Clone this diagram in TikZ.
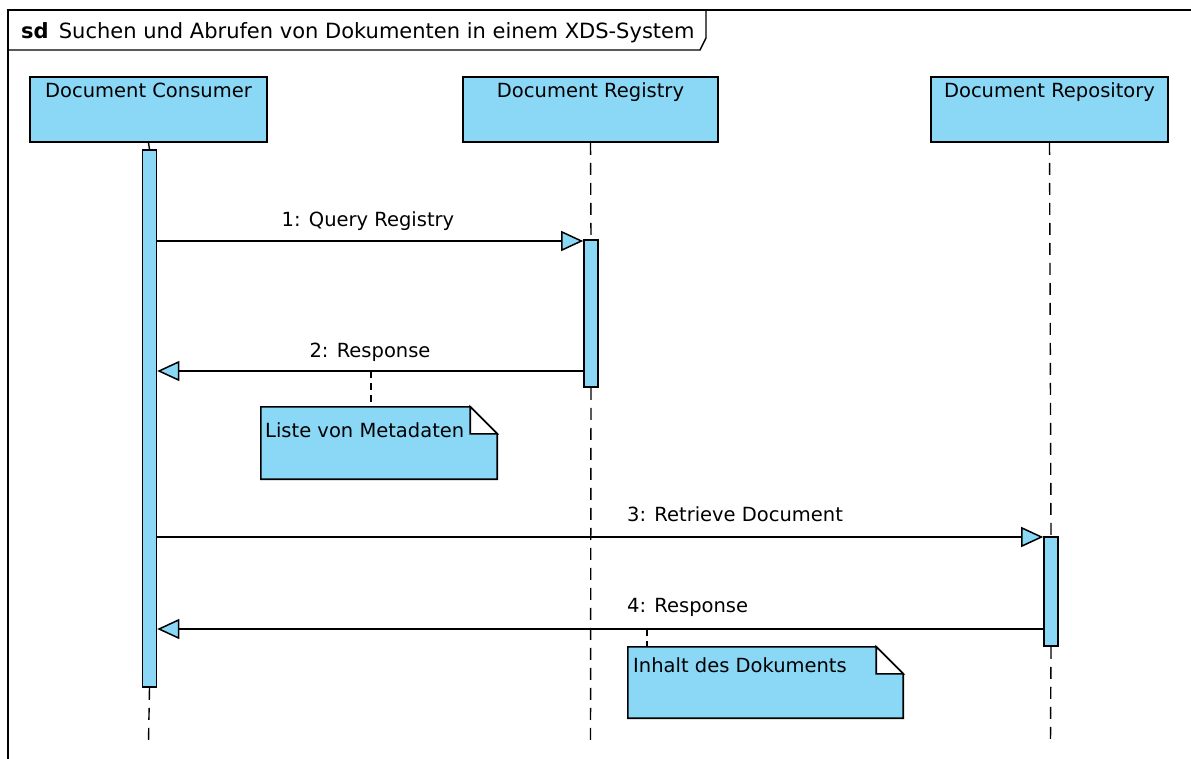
\documentclass[tikz,border=0pt]{standalone}
\usepackage{fontspec}
\setmainfont{DejaVu Sans}
\usetikzlibrary{arrows.meta}
\definecolor{umlblue}{HTML}{8AD8F6}
\tikzset{
  x=1pt, y=-1pt,
  lifebox/.style={draw=black, line width=1.6pt, fill=umlblue, minimum height=65pt, inner sep=0pt},
  txt/.style={font=\fontsize{19.5}{22}\selectfont},
  lifetext/.style={txt, anchor=base},
  actbar/.style={draw=black, line width=1.6pt, fill=umlblue, minimum width=14pt, inner sep=0pt},
  lifeline/.style={draw=black, line width=1.4pt, dash pattern=on 12pt off 8pt},
  msg/.style={draw=black, line width=1.5pt, -{Triangle[length=22pt,width=20pt,fill=umlblue,line width=1.5pt]}},
  msglabel/.style={txt, anchor=base},
  notebox/.style={inner sep=0pt},
  notetext/.style={txt, anchor=base west},
  notelink/.style={draw=black, line width=1.4pt, dash pattern=on 7pt off 5pt},
}
\begin{document}
\begin{tikzpicture}
\useasboundingbox (0,0) rectangle (1191,758);
% frame
\draw[line width=1.4pt] (8,770) -- (8,10) -- (1200,10);
\draw[line width=1.4pt] (8,50) -- (700,50) -- (706,38) -- (706,10);
\node[anchor=base west, font=\fontsize{21}{23}\selectfont, inner sep=0pt] (title) at (21,38) {\textbf{sd}\, Suchen und Abrufen von Dokumenten in einem XDS-System};

% lifeline heads
\node[lifebox, minimum width=237pt] (cons) at (148.5,109.5) {};
\node[lifebox, minimum width=255pt] (reg) at (590.5,109.5) {};
\node[lifebox, minimum width=237pt] (repo) at (1049.5,109.5) {};
\node[lifetext] (consT) at (148.5,97) {Document Consumer};
\node[lifetext] (regT) at (590.5,97) {Document Registry};
\node[lifetext] (repoT) at (1049.5,97) {Document Repository};

% activation bars
\node[actbar, minimum height=537pt] (consA) at (149.5,418.5) {};
\node[actbar, minimum height=147pt] (regA) at (591,313.5) {};
\node[actbar, minimum height=109pt] (repoA) at (1051,591.5) {};

% lifelines
\coordinate (consEnd) at (148.5,742);
\coordinate (regEnd) at (590.5,742);
\coordinate (repoEnd) at (1050.5,742);
\draw[line width=1.4pt] (cons.south) -- (consA.north);
\draw[lifeline] (consA.south) -- (consEnd);
\draw[lifeline] (reg.south) -- (regA.north);
\draw[lifeline] (regA.south) -- (regEnd);
\draw[lifeline] (repo.south) -- (repoA.north);
\draw[lifeline] (repoA.south) -- (repoEnd);

% messages
\coordinate (m1) at (0,241);
\coordinate (m2) at (0,371);
\coordinate (m3) at (0,537);
\coordinate (m4) at (0,629);
\draw[msg] (consA.east |- m1) -- (regA.west |- m1);
\draw[msg] (regA.west |- m2) -- (consA.east |- m2);
\draw[msg] (consA.east |- m3) -- (repoA.west |- m3);
\draw[msg] (repoA.west |- m4) -- (consA.east |- m4);
\node[msglabel] (l1) at (368,226) {1: Query Registry};
\node[msglabel] (l2) at (370,357) {2: Response};
\node[msglabel, anchor=base west, inner sep=0pt] (l3) at (627,521) {3: Retrieve Document};
\node[msglabel, anchor=base west, inner sep=0pt] (l4) at (627,612) {4: Response};

% notes
\node[notebox, minimum width=236pt, minimum height=72pt] (n1) at (379,443) {};
\node[notebox, minimum width=275pt, minimum height=71pt] (n2) at (765.5,682.5) {};
\draw[line width=1.6pt, fill=umlblue] (n1.north west) -- ([xshift=-27pt]n1.north east) -- ([yshift=-27pt]n1.north east) -- (n1.south east) -- (n1.south west) -- cycle;
\draw[line width=1.6pt, fill=white] ([xshift=-27pt]n1.north east) -- ([xshift=-27pt,yshift=-27pt]n1.north east) -- ([yshift=-27pt]n1.north east) -- cycle;
\draw[line width=1.6pt, fill=umlblue] (n2.north west) -- ([xshift=-27pt]n2.north east) -- ([yshift=-27pt]n2.north east) -- (n2.south east) -- (n2.south west) -- cycle;
\draw[line width=1.6pt, fill=white] ([xshift=-27pt]n2.north east) -- ([xshift=-27pt,yshift=-27pt]n2.north east) -- ([yshift=-27pt]n2.north east) -- cycle;
\node[notetext, inner sep=0pt] (n1t) at (265,437) {Liste von Metadaten};
\node[notetext, inner sep=0pt] (n2t) at (633,672) {Inhalt des Dokuments};
\coordinate (c1) at (371,371);
\coordinate (c2) at (647,629);
\draw[notelink] (c1) -- (c1 |- n1.north);
\draw[notelink] (c2) -- (c2 |- n2.north);
\end{tikzpicture}
\end{document}
